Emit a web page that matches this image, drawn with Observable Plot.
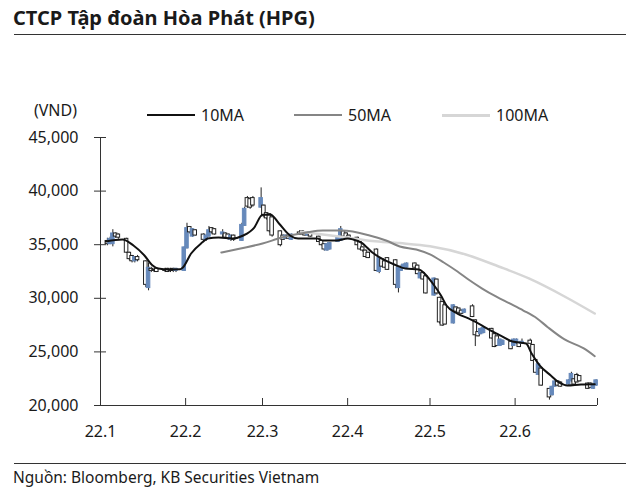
<!DOCTYPE html>
<html><head><meta charset="utf-8">
<script src="https://cdn.jsdelivr.net/npm/d3@7"></script>
<script src="https://cdn.jsdelivr.net/npm/@observablehq/plot@0.6"></script>
<style>
body{margin:0;width:640px;height:494px;position:relative;background:#fff;font-family:"Noto Sans",sans-serif;color:#1a1a1a;overflow:hidden}
#title{position:absolute;left:13px;top:5px;font-size:20px;font-weight:700;line-height:26px;white-space:nowrap}
.hr{position:absolute;left:14px;width:612px;height:1px;background:#333}
#chart{position:absolute;left:0;top:40px}
.lt{position:absolute;font-size:16px;line-height:18px;white-space:nowrap}
.sw{position:absolute;height:2px;width:48px}
#foot{position:absolute;left:13px;top:467px;font-size:15.5px;line-height:20px;white-space:nowrap}
</style></head>
<body>
<div id="title">CTCP Tập đoàn Hòa Phát (HPG)</div>
<div class="hr" style="top:34px"></div>
<div id="chart"></div>
<div class="lt" style="right:563px;top:101px">(VND)</div>
<div id="legend"></div>
<div class="hr" style="top:463px"></div>
<div id="foot">Nguồn: Bloomberg, KB Securities Vietnam</div>
<script>
// ---- data (VND) ----
const seriesNames = ["10MA", "50MA", "100MA"];
const seriesColors = ["#111111", "#858585", "#d6d6d6"];
const yTicks = [20000, 25000, 30000, 35000, 40000, 45000];
const monthStarts = ["2022-01-01","2022-02-01","2022-03-01","2022-04-01","2022-05-01","2022-06-01","2022-07-01"];
const monthLabels = ["22.1","22.2","22.3","22.4","22.5","22.6",""];

// weekdays 3 Jan 2022 - 30 Jun 2022 (one row per week)
const open = [
35300,35100,35100,36000,35900,
35500,34200,33900,33500,33800,
33400,31000,32700,32600,32700,
32600,32700,32600,32700,32600,
32600,34700,36600,35800,36300,
35900,35500,35800,36500,36400,
36000,36000,35900,35500,35800,
35400,36800,39300,39200,39300,
38500,38600,37900,37800,37500,
36200,35800,35600,35800,35500,
36100,36200,36000,35900,36000,
35700,35300,35000,34500,34600,
35300,35400,36200,36000,35800,
35600,35200,34700,34400,34200,
34500,32500,33600,33400,33700,
33500,31000,32600,32800,32900,
33200,33000,31900,32300,32000,
30300,31700,30000,29600,29300,
27700,29100,29000,28800,28700,
29200,27900,26800,26700,26800,
27100,26600,26400,25600,25700,
25900,25600,25800,25800,25800,
26000,25600,24200,22900,23400,
21500,21000,21800,22200,22100,
22000,22300,22400,22800,22700,
22000,22000,21600,21900];
const close = [
35100,35500,36000,35800,35700,
34300,33700,33500,33800,33600,
31300,32800,32600,32600,32500,
32600,32500,32600,32600,32700,
34700,36500,36200,36400,35900,
35500,35800,36300,36200,36000,
36100,35700,35600,35800,35500,
36800,38300,38600,38500,38700,
39300,37700,37500,36300,35900,
35000,35500,35800,35600,35900,
36000,36000,35900,36100,35800,
35300,35000,34600,35000,35100,
35700,36400,35800,35700,35600,
35000,34600,34500,33900,33800,
32600,33700,33000,32900,32700,
31300,32800,32900,33100,33200,
32900,32300,32300,31800,30500,
31800,30500,27800,27500,27600,
29300,28800,28700,28600,28900,
28300,26600,26500,27100,27200,
26300,25500,25600,26100,26000,
25300,26100,26100,25500,25900,
25800,24200,23100,23800,21900,
20800,21700,22200,21900,21800,
22300,22900,22000,22200,22300,
21600,21700,21900,22300];
const high = [
35600,35700,36400,36100,36000,
35600,34300,34000,33900,34000,
33500,33300,32900,32800,32800,
32800,32800,32800,32800,32800,
34800,37000,36700,36500,36400,
36000,35900,36700,36600,36500,
36400,36100,36000,35900,35900,
37000,38500,39500,39400,39500,
40300,38700,38000,37900,37600,
36300,35900,35900,35900,36000,
36300,36300,36200,36200,36100,
35800,35400,35100,35100,35200,
35800,36700,36300,36100,35900,
35700,35300,34800,34500,34300,
34600,33800,33700,33500,33800,
33600,32900,33100,33200,33300,
33300,33100,32400,32400,32100,
31900,31800,30100,29700,29400,
29400,29200,29100,28900,29000,
29400,28000,26900,27200,27300,
27200,26700,26500,26200,26100,
26000,26200,26200,25900,26200,
26200,25700,24300,23900,23500,
21600,21800,22300,22300,22200,
22400,23100,22500,23000,22800,
22100,22100,22000,22400];
const low = [
34900,35000,34800,35600,35500,
34200,33500,33300,33300,33400,
31000,30700,32400,32400,32400,
32400,32400,32400,32400,32400,
32500,34600,36000,35700,35800,
35200,35300,35700,36000,35900,
35600,35500,35400,35300,35300,
35300,36700,38400,38300,38500,
38400,37500,37300,36100,35700,
34800,35400,35500,35500,35400,
35900,35900,35800,35800,35700,
35200,34900,34400,34400,34500,
35200,35300,35700,35600,35500,
34900,34500,34300,33800,33700,
32500,32300,32900,32800,32600,
30900,30500,32500,32700,32800,
32800,32200,31800,31700,30400,
30200,30300,27600,27400,27500,
27600,28700,28600,28500,28600,
28200,25500,26400,26600,26700,
26200,25400,25500,25500,25600,
25200,25500,25700,25400,25700,
25700,24100,23000,22800,21800,
20500,20900,21700,21800,21700,
21900,22200,21900,22100,22200,
21500,21600,21500,21800];

const ma10Dates = ["2022-01-03","2022-01-09","2022-01-13","2022-01-17","2022-01-20","2022-01-22","2022-01-26","2022-01-30","2022-01-31","2022-02-03","2022-02-07","2022-02-09","2022-02-13","2022-02-18","2022-02-22","2022-02-26","2022-03-01","2022-03-04","2022-03-07","2022-03-11","2022-03-14","2022-03-21","2022-03-23","2022-03-28","2022-04-01","2022-04-03","2022-04-06","2022-04-10","2022-04-14","2022-04-18","2022-04-22","2022-04-27","2022-04-29","2022-05-02","2022-05-05","2022-05-07","2022-05-11","2022-05-15","2022-05-20","2022-05-23","2022-05-26","2022-05-31","2022-06-05","2022-06-07","2022-06-10","2022-06-14","2022-06-17","2022-06-20","2022-06-25","2022-06-30"];
const ma10 = [35300,35480,34920,33990,33060,32780,32690,32700,32870,34180,35200,35580,35670,35580,35860,36600,37800,37800,36980,35860,35580,35580,35390,35390,35580,35490,35200,34270,33620,33150,32780,32690,32310,31380,30260,29330,28580,28120,27460,27000,26620,25970,25780,24850,23730,22800,22150,21870,21960,21980];
const ma50Dates = ["2022-02-14","2022-02-21","2022-03-01","2022-03-08","2022-03-17","2022-03-23","2022-03-30","2022-04-09","2022-04-15","2022-04-20","2022-04-26","2022-05-01","2022-05-06","2022-05-11","2022-05-15","2022-05-20","2022-05-25","2022-05-30","2022-06-04","2022-06-09","2022-06-13","2022-06-19","2022-06-26","2022-06-30"];
const ma50 = [34270,34650,35110,35670,36140,36320,36320,35860,35390,34830,34550,34090,33340,32500,31750,30910,30170,29520,28860,28120,27280,26160,25320,24600];
const ma100Dates = ["2022-03-15","2022-03-31","2022-04-10","2022-04-20","2022-05-01","2022-05-14","2022-05-26","2022-06-06","2022-06-19","2022-06-30"];
const ma100 = [36200,35700,35350,35150,34850,34090,32970,31850,30170,28580];

// ---- build ----
const dates = d3.utcDay.range(new Date("2022-01-03"), new Date("2022-07-01")).filter(d => d.getUTCDay() !== 0 && d.getUTCDay() !== 6);
const candles = dates.map((d, i) => ({d, d2: d3.utcDay.offset(d, 1), mid: d3.utcHour.offset(d, 12), o: open[i], h: high[i], l: low[i], c: close[i]}));
const toLine = (ds, vs) => ds.map((s, i) => ({d: new Date(s), v: vs[i]}));
const lines = [toLine(ma10Dates, ma10), toLine(ma50Dates, ma50), toLine(ma100Dates, ma100)];
const months = monthStarts.map(s => new Date(s));
const BLUE = "#6689bb";

const chart = Plot.plot({
  width: 640, height: 420,
  marginLeft: 100, marginRight: 43, marginTop: 97, marginBottom: 55,
  style: {fontFamily: "Noto Sans", fontSize: "16px", color: "#1a1a1a", background: "transparent"},
  x: {type: "utc", domain: [months[0], months[6]], label: null},
  y: {domain: [20000, 45000], label: null},
  marks: [
    Plot.ruleX(candles, {x: "mid", y1: "l", y2: "h", stroke: "#222", strokeWidth: 1}),
    Plot.rect(candles, {x1: "d", x2: "d2", y1: "o", y2: "c",
      fill: d => d.c > d.o ? BLUE : "#fff",
      stroke: d => d.c > d.o ? BLUE : "#222", strokeWidth: 1,
      insetTop: -0.5, insetBottom: -0.5, insetLeft: -0.4, insetRight: -0.4}),
    Plot.line(lines[2], {x: "d", y: "v", stroke: seriesColors[2], strokeWidth: 2.5, curve: "monotone-x"}),
    Plot.line(lines[1], {x: "d", y: "v", stroke: seriesColors[1], strokeWidth: 2, curve: "monotone-x"}),
    Plot.line(lines[0], {x: "d", y: "v", stroke: seriesColors[0], strokeWidth: 2, curve: "monotone-x"}),
    Plot.ruleX([months[0]], {stroke: "#333"}),
    Plot.ruleY([20000], {stroke: "#333"}),
    Plot.ruleX(months, {stroke: "#333", insetTop: 261}),
    Plot.ruleY(yTicks, {stroke: "#333", dx: -6, insetRight: 485}),
    Plot.axisY(yTicks, {tickSize: 0, tickPadding: 22, tickFormat: d3.format(","), label: null}),
    Plot.axisX(months.slice(0, 6), {tickSize: 0, tickPadding: 20, tickFormat: (d, i) => monthLabels[i], label: null})
  ]
});
document.getElementById("chart").appendChild(chart);

// legend
const legX = [147, 294, 442];
const leg = document.getElementById("legend");
seriesNames.forEach((n, i) => {
  const sw = document.createElement("div");
  sw.className = "sw";
  sw.style.left = legX[i] + "px"; sw.style.top = (i === 2 ? 113.5 : 114) + "px";
  sw.style.height = (i === 2 ? 3 : 2) + "px";
  sw.style.background = seriesColors[i];
  leg.appendChild(sw);
  const t = document.createElement("div");
  t.className = "lt";
  t.style.left = (legX[i] + 54) + "px"; t.style.top = "106px";
  t.textContent = n;
  leg.appendChild(t);
});
</script>
</body></html>
